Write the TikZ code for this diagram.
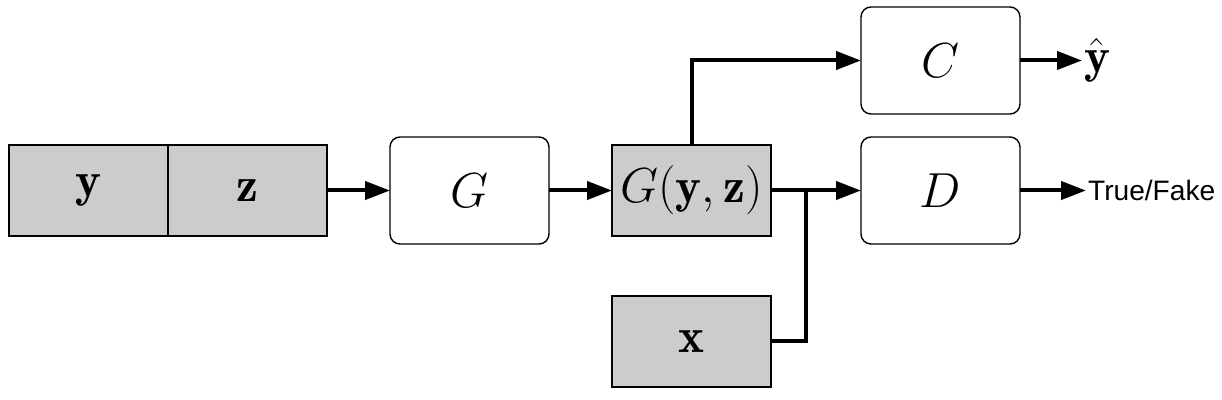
\documentclass[tikz,border=0pt]{standalone}
\usepackage{fix-cm}
\usepackage{amsmath}
\usepackage{fontspec}
\newfontfamily\labelfont{Liberation Sans}
\usetikzlibrary{positioning, arrows.meta}

\begin{document}
\begin{tikzpicture}[
		graybox/.style={rectangle, draw, line width=0.8pt, fill=gray!40, inner sep=0pt, outer sep=0pt, minimum width=31.8mm, minimum height=18.2mm},
		netbox/.style={rectangle, draw, line width=0.8pt, rounded corners=2mm, inner sep=0pt, outer sep=0pt, minimum width=31.8mm, minimum height=21.4mm},
		textb/.style={inner sep=1pt},
		bigmath/.style={font=\fontsize{28}{33}\selectfont},
		flow/.style={line width=0.8mm},
		>={Triangle[length=5mm, width=3.6mm]}
	]
	\useasboundingbox (0,0) rectangle (244.4mm,-80mm);

	\node[graybox, bigmath] (y) at (17.7mm,-38.1mm) {$\mathbf{y}$};
	\node[graybox, bigmath, right=0mm of y] (z) {$\mathbf{z}$};
	\node[netbox, bigmath, right=12.6mm of z] (g) {$G$};
	\node[graybox, bigmath, right=12.6mm of g] (gyz) {$G(\mathbf{y},\mathbf{z})$};
	\node[netbox, bigmath, right=18mm of gyz] (d) {$D$};
	\node[netbox, bigmath, above=4.6mm of d] (c) {$C$};
	\node[graybox, bigmath, below=12mm of gyz] (x) {$\mathbf{x}$};
	\node[textb, bigmath, right=12.4mm of c] (yhat) {$\hat{\mathbf{y}}$};
	\node[textb, font=\labelfont\fontsize{16}{19}\selectfont, right=13.2mm of d] (tf) {True/Fake};
	\coordinate[right=7mm of gyz.east] (join);

	\foreach \i/\j in {z/g, g/gyz, gyz/d, c/yhat, d/tf}
		\draw[flow, ->] (\i) -- (\j);

	\draw[flow, ->] (gyz.north) |- (c.west);
	\draw[flow] (x.east) -| (join);

\end{tikzpicture}
\end{document}
